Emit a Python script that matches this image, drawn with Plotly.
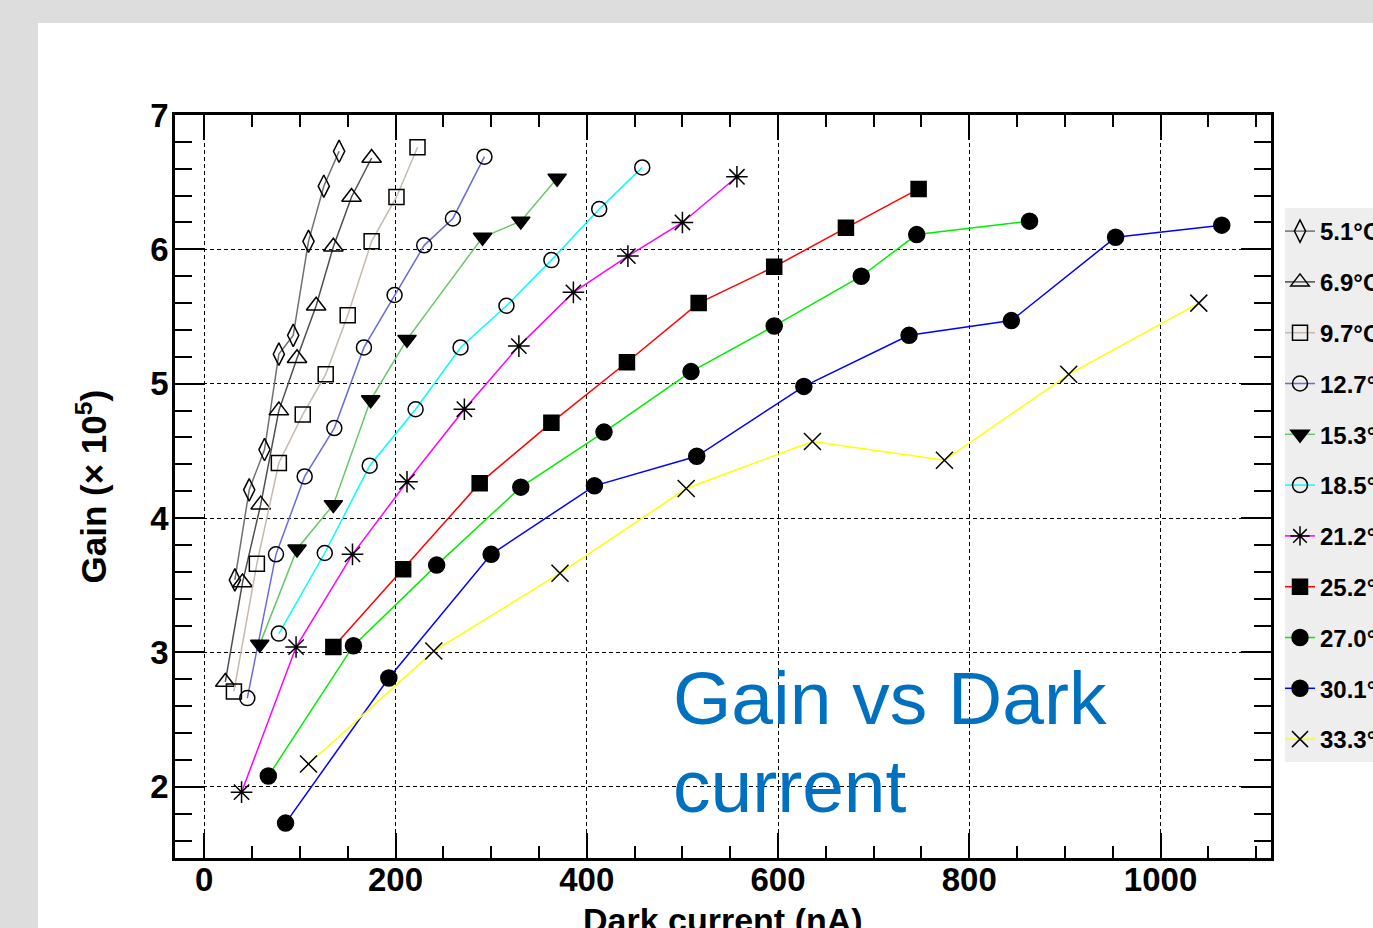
import plotly.graph_objects as go

# ---- data ----
labels = ["5.1°C", "6.9°C", "9.7°C", "12.7°C", "15.3°C", "18.5°C",
          "21.2°C", "25.2°C", "27.0°C", "30.1°C", "33.3°C"]

x_5_1 = [32, 47, 63, 78, 93, 109, 125, 141]
y_5_1 = [3.54, 4.21, 4.51, 5.22, 5.36, 6.06, 6.47, 6.73]
x_6_9 = [22, 40, 59, 78, 97, 117, 135, 154, 175]
y_6_9 = [2.78, 3.52, 4.10, 4.80, 5.19, 5.58, 6.02, 6.39, 6.68]
x_9_7 = [31, 55, 78, 103, 127, 150, 175, 201, 223]
y_9_7 = [2.71, 3.66, 4.41, 4.77, 5.07, 5.51, 6.06, 6.39, 6.76]
x_12_7 = [45, 75, 105, 136, 167, 199, 230, 260, 293]
y_12_7 = [2.66, 3.73, 4.31, 4.67, 5.27, 5.66, 6.03, 6.23, 6.69]
x_15_3 = [58, 97, 135, 174, 212, 291, 331, 369]
y_15_3 = [3.06, 3.77, 4.10, 4.88, 5.33, 6.09, 6.21, 6.53]
x_18_5 = [78, 126, 173, 221, 268, 316, 363, 413, 458]
y_18_5 = [3.14, 3.74, 4.39, 4.81, 5.27, 5.58, 5.92, 6.30, 6.61]
x_21_2 = [39, 96, 155, 212, 272, 329, 386, 443, 500, 557]
y_21_2 = [1.96, 3.04, 3.73, 4.27, 4.81, 5.28, 5.68, 5.95, 6.20, 6.54]
x_25_2 = [135, 208, 288, 363, 442, 517, 596, 671, 747]
y_25_2 = [3.04, 3.62, 4.26, 4.71, 5.16, 5.60, 5.87, 6.16, 6.45]
x_27_0 = [67, 156, 243, 331, 418, 509, 596, 687, 745, 863]
y_27_0 = [2.08, 3.05, 3.65, 4.23, 4.64, 5.09, 5.43, 5.80, 6.11, 6.21]
x_30_1 = [85, 193, 300, 408, 515, 627, 737, 844, 953, 1064]
y_30_1 = [1.73, 2.81, 3.73, 4.24, 4.46, 4.98, 5.36, 5.47, 6.09, 6.18]
x_33_3 = [109, 240, 372, 504, 636, 774, 904, 1040]
y_33_3 = [2.17, 3.01, 3.59, 4.22, 4.57, 4.43, 5.07, 5.60]

xs = [x_5_1, x_6_9, x_9_7, x_12_7, x_15_3, x_18_5, x_21_2, x_25_2, x_27_0, x_30_1, x_33_3]
ys = [y_5_1, y_6_9, y_9_7, y_12_7, y_15_3, y_18_5, y_21_2, y_25_2, y_27_0, y_30_1, y_33_3]

x_ticks = [0, 200, 400, 600, 800, 1000]
y_ticks = [2, 3, 4, 5, 6, 7]

# ---- styles ----
line_colors = ["#707070", "#4f4f4f", "#c4bab0", "#6a6ae0", "#66c866", "#00ffff",
               "#ff00ff", "#ff0000", "#00ee00", "#0000ff", "#ffff00"]
symbols = ["diamond-tall-open", "triangle-up-open", "square-open", "circle-open",
           "triangle-down", "circle-open", "asterisk-open", "square",
           "circle", "circle", "x-thin-open"]
sizes = [16, 17, 15, 15, 16, 15, 18, 15, 16, 16, 17]

FONT = "Liberation Sans, Arial, Helvetica, sans-serif"

fig = go.Figure()
for i in range(len(labels)):
    fig.add_trace(go.Scatter(
        x=xs[i], y=ys[i], name=labels[i], mode="lines+markers",
        legendgroup=labels[i],
        line=dict(color=line_colors[i], width=1.5),
        marker=dict(symbol=symbols[i], size=sizes[i], color="black",
                    line=dict(color="black", width=1.5)),
    ))

L, R, T, B = 175, 1373 - 1271, 115, 928 - 858
PW, PH = 1373 - L - R, 928 - T - B

def px_x(p):
    return (p - L) / PW

def px_y(p):
    return (928 - B - p) / PH

# white panel on grey page
fig.add_shape(type="rect", xref="paper", yref="paper",
              x0=px_x(38), x1=px_x(1400), y0=px_y(960), y1=px_y(23),
              fillcolor="white", line=dict(width=0), layer="below")
# legend box
fig.add_shape(type="rect", xref="paper", yref="paper",
              x0=px_x(1285), x1=px_x(1400), y0=px_y(762), y1=px_y(208),
              fillcolor="#eeeeee", line=dict(width=0), layer="below")

axis_common = dict(
    showline=True, linecolor="black", linewidth=2.5, mirror="allticks",
    ticks="inside", tickcolor="black", tickwidth=2,
    showgrid=True, gridcolor="black", gridwidth=1.4, griddash="4px,3px",
    zeroline=False,
    tickfont=dict(family=FONT, size=33, color="black", weight="bold"),
)

fig.update_xaxes(range=[-30.6, 1115.5], tickvals=x_ticks, ticklen=25,
                 ticklabelstandoff=-9,
                 minor=dict(dtick=50, tick0=0, ticks="inside", ticklen=12,
                            tickwidth=1.5, tickcolor="black", showgrid=False),
                 **axis_common)
fig.update_yaxes(range=[1.47, 7.0], tickvals=y_ticks, ticklen=30,
                 ticklabelstandoff=-3,
                 minor=dict(dtick=0.2, tick0=0, ticks="inside", ticklen=17,
                            tickwidth=1.5, tickcolor="black", showgrid=False),
                 **axis_common)

fig.add_annotation(text="Dark current (nA)", xref="paper", yref="paper",
                   x=0.5, y=px_y(920), xanchor="center", yanchor="middle",
                   showarrow=False,
                   font=dict(family=FONT, size=34, color="black", weight="bold"))
fig.add_annotation(text="Gain (× 10<sup>5</sup>)", xref="paper", yref="paper",
                   x=px_x(91), y=0.5, xanchor="center", yanchor="middle",
                   textangle=-90, showarrow=False,
                   font=dict(family=FONT, size=35, color="black", weight="bold"))

fig.add_annotation(text="Gain vs Dark", xref="paper", yref="paper",
                   x=px_x(671), y=px_y(698), xanchor="left", yanchor="middle",
                   showarrow=False,
                   font=dict(family=FONT, size=75, color="#0070c0"))
fig.add_annotation(text="current", xref="paper", yref="paper",
                   x=px_x(671), y=px_y(786), xanchor="left", yanchor="middle",
                   showarrow=False,
                   font=dict(family=FONT, size=75, color="#0070c0"))

fig.update_layout(
    width=1373, height=928,
    margin=dict(l=L, r=R, t=T, b=B, autoexpand=False),
    paper_bgcolor="#dddddd", plot_bgcolor="white",
    showlegend=True,
    legend=dict(x=px_x(1280), y=px_y(209), xanchor="left", yanchor="top",
                xref="paper", yref="paper",
                bgcolor="rgba(0,0,0,0)", borderwidth=0, tracegroupgap=16.6,
                traceorder="grouped",
                font=dict(family=FONT, size=24, color="black", weight="bold")),
)

fig.write_html("out.html",
               config={"displayModeBar": False},
               post_script="document.body.style.margin='0';"
                           "document.body.style.overflow='hidden';")
